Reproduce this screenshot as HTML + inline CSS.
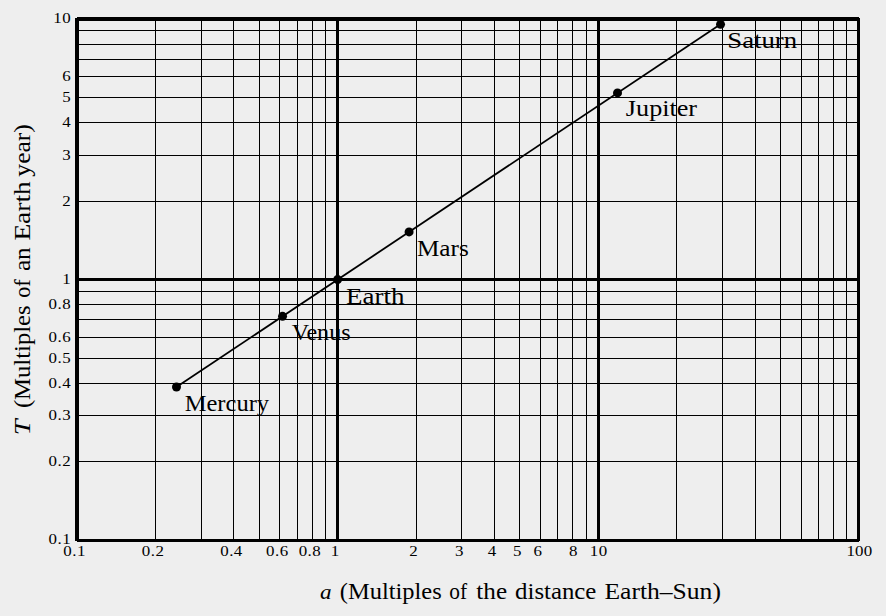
<!DOCTYPE html>
<html><head><meta charset="utf-8"><title>Kepler</title>
<style>
html,body{margin:0;padding:0;background:#eeeeee;}
body{width:886px;height:616px;overflow:hidden;}
svg{display:block;}
text{font-family:"Liberation Serif",serif;fill:#000;}
.t{font-size:14px;}
.p{font-size:24px;}
</style></head><body>
<svg width="886" height="616" viewBox="0 0 886 616">
<rect x="0" y="0" width="886" height="616" fill="#eeeeee"/>
<g fill="#000" shape-rendering="crispEdges">
<rect x="155" y="19" width="1" height="522"/>
<rect x="201" y="19" width="1" height="522"/>
<rect x="233" y="19" width="1" height="522"/>
<rect x="259" y="19" width="1" height="522"/>
<rect x="279" y="19" width="1" height="522"/>
<rect x="297" y="19" width="1" height="522"/>
<rect x="312" y="19" width="1" height="522"/>
<rect x="325" y="19" width="1" height="522"/>
<rect x="416" y="19" width="1" height="522"/>
<rect x="461" y="19" width="1" height="522"/>
<rect x="494" y="19" width="1" height="522"/>
<rect x="519" y="19" width="1" height="522"/>
<rect x="540" y="19" width="1" height="522"/>
<rect x="557" y="19" width="1" height="522"/>
<rect x="572" y="19" width="1" height="522"/>
<rect x="586" y="19" width="1" height="522"/>
<rect x="676" y="19" width="1" height="522"/>
<rect x="722" y="19" width="1" height="522"/>
<rect x="755" y="19" width="1" height="522"/>
<rect x="780" y="19" width="1" height="522"/>
<rect x="801" y="19" width="1" height="522"/>
<rect x="818" y="19" width="1" height="522"/>
<rect x="833" y="19" width="1" height="522"/>
<rect x="846" y="19" width="1" height="522"/>
<rect x="77" y="461" width="782" height="1"/>
<rect x="77" y="415" width="782" height="1"/>
<rect x="77" y="383" width="782" height="1"/>
<rect x="77" y="358" width="782" height="1"/>
<rect x="77" y="337" width="782" height="1"/>
<rect x="77" y="319" width="782" height="1"/>
<rect x="77" y="304" width="782" height="1"/>
<rect x="77" y="291" width="782" height="1"/>
<rect x="77" y="201" width="782" height="1"/>
<rect x="77" y="155" width="782" height="1"/>
<rect x="77" y="122" width="782" height="1"/>
<rect x="77" y="97" width="782" height="1"/>
<rect x="77" y="76" width="782" height="1"/>
<rect x="77" y="59" width="782" height="1"/>
<rect x="77" y="44" width="782" height="1"/>
<rect x="77" y="30" width="782" height="1"/>
<rect x="75" y="18" width="4" height="523"/>
<rect x="336" y="18" width="3" height="523"/>
<rect x="597" y="18" width="3" height="523"/>
<rect x="857" y="18" width="3" height="523"/>
<rect x="77" y="17" width="782" height="4"/>
<rect x="77" y="278" width="782" height="3"/>
<rect x="77" y="539" width="782" height="3"/>
</g>
<line x1="176.48" y1="387.04" x2="720.53" y2="24.34" stroke="#000" stroke-width="1.8"/>
<circle cx="176.48" cy="387.04" r="4.5" fill="#000"/>
<circle cx="282.53" cy="316.31" r="4.5" fill="#000"/>
<circle cx="337.56" cy="279.60" r="4.5" fill="#000"/>
<circle cx="409.08" cy="231.91" r="4.5" fill="#000"/>
<circle cx="617.53" cy="92.94" r="4.5" fill="#000"/>
<circle cx="720.53" cy="24.34" r="4.5" fill="#000"/>
<text class="p" x="184.70" y="410.80" textLength="84.41" lengthAdjust="spacingAndGlyphs">Mercury</text>
<text class="p" x="291.66" y="339.50" textLength="58.91" lengthAdjust="spacingAndGlyphs">Venus</text>
<text class="p" x="346.05" y="303.90" textLength="58.40" lengthAdjust="spacingAndGlyphs">Earth</text>
<text class="p" x="416.93" y="255.60" textLength="51.81" lengthAdjust="spacingAndGlyphs">Mars</text>
<text class="p" x="625.87" y="116.30" textLength="71.23" lengthAdjust="spacingAndGlyphs">Jupiter</text>
<text class="p" x="727.27" y="47.60" textLength="69.79" lengthAdjust="spacingAndGlyphs">Saturn</text>
<text class="t" transform="translate(74.55,555.9) scale(1.21,1)" text-anchor="middle" letter-spacing="0.4">0.1</text>
<text class="t" transform="translate(153.02,555.9) scale(1.21,1)" text-anchor="middle" letter-spacing="0.4">0.2</text>
<text class="t" transform="translate(231.48,555.9) scale(1.21,1)" text-anchor="middle" letter-spacing="0.4">0.4</text>
<text class="t" transform="translate(277.38,555.9) scale(1.21,1)" text-anchor="middle" letter-spacing="0.4">0.6</text>
<text class="t" transform="translate(309.95,555.9) scale(1.21,1)" text-anchor="middle" letter-spacing="0.4">0.8</text>
<text class="t" transform="translate(335.21,555.9) scale(1.21,1)" text-anchor="middle" letter-spacing="0.4">1</text>
<text class="t" transform="translate(413.68,555.9) scale(1.21,1)" text-anchor="middle" letter-spacing="0.4">2</text>
<text class="t" transform="translate(459.58,555.9) scale(1.21,1)" text-anchor="middle" letter-spacing="0.4">3</text>
<text class="t" transform="translate(492.14,555.9) scale(1.21,1)" text-anchor="middle" letter-spacing="0.4">4</text>
<text class="t" transform="translate(517.40,555.9) scale(1.21,1)" text-anchor="middle" letter-spacing="0.4">5</text>
<text class="t" transform="translate(538.04,555.9) scale(1.21,1)" text-anchor="middle" letter-spacing="0.4">6</text>
<text class="t" transform="translate(573.41,555.9) scale(1.21,1)" text-anchor="middle" letter-spacing="0.4">8</text>
<text class="t" transform="translate(598.67,555.9) scale(1.21,1)" text-anchor="middle" letter-spacing="0.4">10</text>
<text class="t" transform="translate(859.33,555.9) scale(1.21,1)" text-anchor="middle" letter-spacing="0.1">100</text>
<text class="t" transform="translate(71.2,22.70) scale(1.21,1)" text-anchor="end" letter-spacing="0.4">10</text>
<text class="t" transform="translate(71.2,81.41) scale(1.21,1)" text-anchor="end" letter-spacing="0.4">6</text>
<text class="t" transform="translate(71.2,102.05) scale(1.21,1)" text-anchor="end" letter-spacing="0.4">5</text>
<text class="t" transform="translate(71.2,127.30) scale(1.21,1)" text-anchor="end" letter-spacing="0.4">4</text>
<text class="t" transform="translate(71.2,159.86) scale(1.21,1)" text-anchor="end" letter-spacing="0.4">3</text>
<text class="t" transform="translate(71.2,205.75) scale(1.21,1)" text-anchor="end" letter-spacing="0.4">2</text>
<text class="t" transform="translate(71.2,284.20) scale(1.21,1)" text-anchor="end" letter-spacing="0.4">1</text>
<text class="t" transform="translate(71.2,309.45) scale(1.21,1)" text-anchor="end" letter-spacing="0.4">0.8</text>
<text class="t" transform="translate(71.2,342.01) scale(1.21,1)" text-anchor="end" letter-spacing="0.4">0.6</text>
<text class="t" transform="translate(71.2,362.65) scale(1.21,1)" text-anchor="end" letter-spacing="0.4">0.5</text>
<text class="t" transform="translate(71.2,387.90) scale(1.21,1)" text-anchor="end" letter-spacing="0.4">0.4</text>
<text class="t" transform="translate(71.2,420.46) scale(1.21,1)" text-anchor="end" letter-spacing="0.4">0.3</text>
<text class="t" transform="translate(71.2,466.35) scale(1.21,1)" text-anchor="end" letter-spacing="0.4">0.2</text>
<text class="t" transform="translate(71.2,543.90) scale(1.21,1)" text-anchor="end" letter-spacing="0.4">0.1</text>
<text class="p" font-style="italic" style="font-size:21.5px" x="319.90" y="598.8" textLength="11.56" lengthAdjust="spacingAndGlyphs">a</text>
<text class="p" x="339.84" y="598.8" textLength="101.82" lengthAdjust="spacingAndGlyphs">(Multiples</text>
<text class="p" x="449.28" y="598.8" textLength="17.78" lengthAdjust="spacingAndGlyphs">of</text>
<text class="p" x="476.37" y="598.8" textLength="30.72" lengthAdjust="spacingAndGlyphs">the</text>
<text class="p" x="515.08" y="598.8" textLength="81.30" lengthAdjust="spacingAndGlyphs">distance</text>
<text class="p" x="604.41" y="598.8" textLength="116.49" lengthAdjust="spacingAndGlyphs">Earth–Sun)</text>
<g transform="translate(30.3,0) rotate(-90)">
<text class="p" font-style="italic" style="font-size:24px" x="-435.19" y="0" textLength="15.77" lengthAdjust="spacingAndGlyphs">T</text>
<text class="p" x="-408.13" y="0" textLength="102.76" lengthAdjust="spacingAndGlyphs">(Multiples</text>
<text class="p" x="-297.75" y="0" textLength="18.50" lengthAdjust="spacingAndGlyphs">of</text>
<text class="p" x="-271.11" y="0" textLength="23.83" lengthAdjust="spacingAndGlyphs">an</text>
<text class="p" x="-240.64" y="0" textLength="59.38" lengthAdjust="spacingAndGlyphs">Earth</text>
<text class="p" x="-176.66" y="0" textLength="52.54" lengthAdjust="spacingAndGlyphs">year)</text>
</g>
</svg>
</body></html>
